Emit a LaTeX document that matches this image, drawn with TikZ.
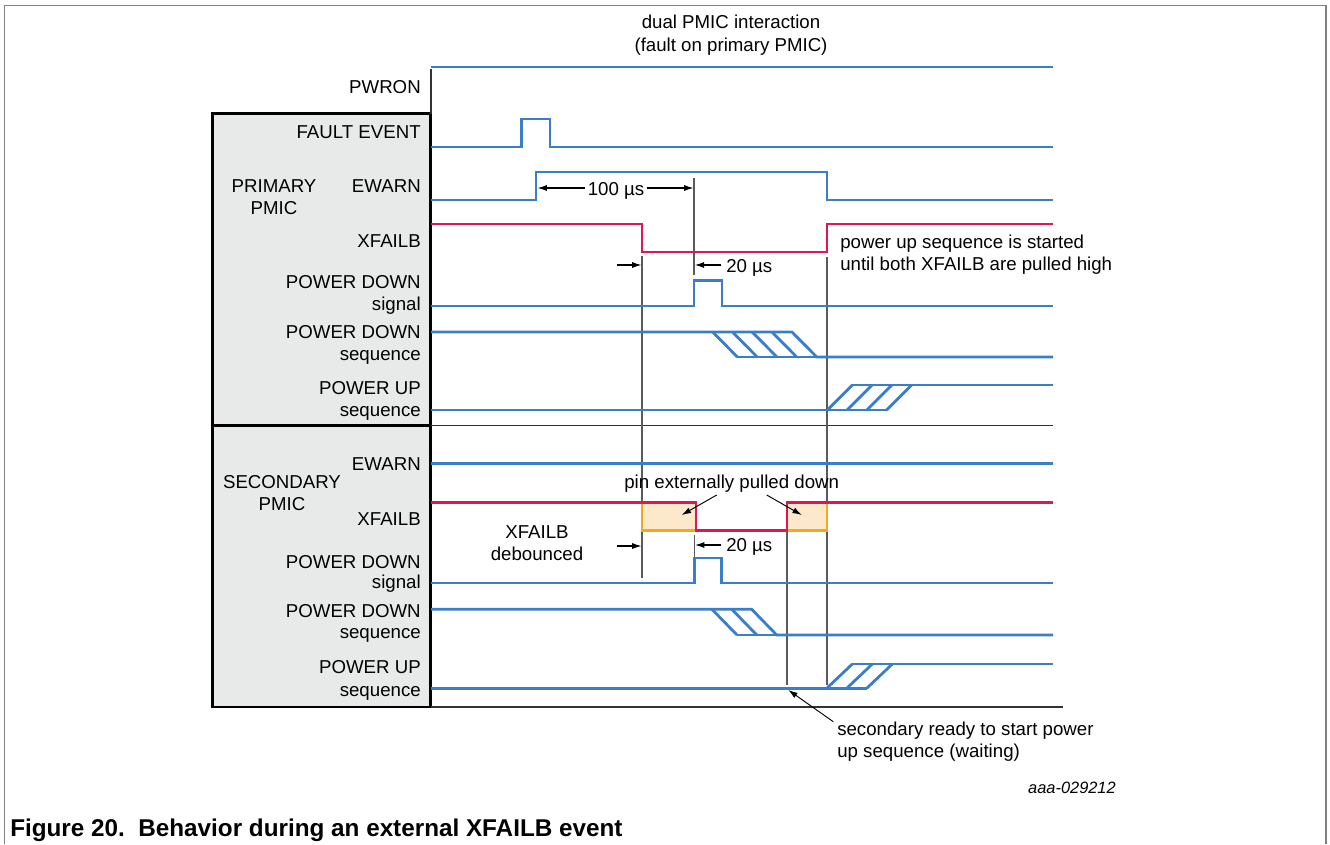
\documentclass[tikz,border=0pt]{standalone}
\usepackage{fontspec}
\setmainfont{Liberation Sans}
\usetikzlibrary{arrows.meta}
\definecolor{sigblue}{RGB}{58,126,200}
\definecolor{sigred}{RGB}{226,22,76}
\definecolor{pinorange}{RGB}{245,168,30}
\definecolor{pinfill}{RGB}{252,233,203}
\definecolor{boxgray}{RGB}{232,233,233}
\definecolor{framegray}{RGB}{128,128,128}
\definecolor{guidegray}{RGB}{90,90,90}
\begin{document}
\begin{tikzpicture}[x=0.75pt,y=-0.75pt,
  sig/.style={sigblue,line width=2.1pt,line join=miter},
  rsig/.style={sigred,line width=2.1pt},
  pinedge/.style={pinorange,line width=2pt},
  guide/.style={guidegray,line width=0.9pt},
  axisline/.style={black!80,line width=1pt},
  pmicbox/.style={draw=black,line width=2pt,fill=boxgray},
  lbl/.style={anchor=base east,inner sep=0pt,font=\fontsize{14}{16}\selectfont},
  ctxt/.style={anchor=base,inner sep=0pt,font=\fontsize{14}{16}\selectfont},
  ltxt/.style={anchor=base west,inner sep=0pt,font=\fontsize{14}{16}\selectfont},
  dimarr/.style={black,line width=0.8pt,-{Latex[length=7pt,width=4.5pt]}},
  notearr/.style={black,line width=0.7pt,-{Latex[length=7pt,width=4.5pt]}},
]
\useasboundingbox (0,0) rectangle (1330,844);
% outer frame
\draw[framegray,line width=1.1pt] (4.7,844) -- (4.7,5.7) -- (1326,5.7) -- (1326,844);

% PMIC boxes
\path[pmicbox] (212.5,113.5) rectangle (430.5,425.5);
\path[pmicbox] (212.5,425.5) rectangle (430.5,707);
\draw[axisline] (431,69) -- (431,113.5);
\draw[axisline] (430.5,425.5) -- (1053,425.5);
\draw[axisline] (430.5,707) -- (1063,707);

% title
\node[ctxt] (title1) at (731,28.5) {dual PMIC interaction};
\node[ctxt] (title2) at (731,51.5) {(fault on primary PMIC)};

% labels primary
\node[lbl] (lpwron) at (421,93) {PWRON};
\node[lbl] (lfault) at (421,138) {FAULT EVENT};
\node[ctxt] (lprim1) at (274,192) {PRIMARY};
\node[ctxt] (lprim2) at (274,214) {PMIC};
\node[lbl] (lewarn1) at (421,192) {EWARN};
\node[lbl] (lxf1) at (421,247) {XFAILB};
\node[lbl] (lpds1a) at (421,288) {POWER DOWN};
\node[lbl] (lpds1b) at (421,310) {signal};
\node[lbl] (lpdq1a) at (421,338) {POWER DOWN};
\node[lbl] (lpdq1b) at (421,360) {sequence};
\node[lbl] (lpuq1a) at (421,394) {POWER UP};
\node[lbl] (lpuq1b) at (421,416) {sequence};
% labels secondary
\node[lbl] (lewarn2) at (421,470) {EWARN};
\node[ctxt] (lsec1) at (282,488) {SECONDARY};
\node[ctxt] (lsec2) at (282,510) {PMIC};
\node[lbl] (lxf2) at (421,525) {XFAILB};
\node[lbl] (lpds2a) at (421,568) {POWER DOWN};
\node[lbl] (lpds2b) at (421,588) {signal};
\node[lbl] (lpdq2a) at (421,617) {POWER DOWN};
\node[lbl] (lpdq2b) at (421,638) {sequence};
\node[lbl] (lpuq2a) at (421,673) {POWER UP};
\node[lbl] (lpuq2b) at (421,696) {sequence};

% guide lines
\draw[guide] (694,178) -- (694,275);
\draw[guide] (642,256) -- (642,578);
\draw[guide] (827,257) -- (827,685);
\draw[guide] (787,531) -- (787,685);
\draw[guide] (694.3,535) -- (694.3,557);

% pin pulled down boxes
\fill[pinfill] (642,502.7) rectangle (696,530.7);
\fill[pinfill] (787,502.7) rectangle (827,530.7);
\draw[pinedge] (642,502.7) -- (642,530.7) -- (696,530.7);
\draw[pinedge] (787,530.7) -- (827,530.7) -- (827,502.7);

% primary signals
\draw[sig] (431,67) -- (1053,67);
\draw[sig] (431,147) -- (521.5,147) -- (521.5,119) -- (550,119) -- (550,147) -- (1053,147);
\draw[sig] (431,200) -- (536,200) -- (536,172) -- (827,172) -- (827,200) -- (1053,200);
\draw[rsig] (431,224) -- (642,224) -- (642,252) -- (827,252) -- (827,224) -- (1053,224);
\draw[sig] (431,306) -- (694,306) -- (694,280.5) -- (722,280.5) -- (722,306) -- (1053,306);
\draw[sig] (431,332) -- (792,332) -- (816.7,357) -- (1053,357);
\draw[sig] (737.3,357) -- (816.7,357);
\foreach \xx in {712.7,732.5,752.2,772} \draw[sig] (\xx,332) -- ++(24.7,25);
\draw[sig] (431,410) -- (886.7,410);
\draw[sig] (852.3,385) -- (1053,385);
\foreach \xx in {827.3,847.1,866.9,886.7} \draw[sig] (\xx,410) -- ++(25,-25);

% secondary signals
\draw[sig] (431,463.5) -- (1053,463.5);
\draw[rsig] (431,502.7) -- (696,502.7) -- (696,530.7) -- (787,530.7) -- (787,502.7) -- (1053,502.7);
\draw[sig] (431,583) -- (694.3,583) -- (694.3,558) -- (721.7,558) -- (721.7,583) -- (1053,583);
\draw[sig] (431,609.3) -- (751.7,609.3) -- (776.7,635) -- (1053,635);
\draw[sig] (737,635) -- (776.7,635);
\foreach \xx in {712,731.8} \draw[sig] (\xx,609.3) -- ++(25,25.7);
\draw[sig] (431,688.3) -- (866.7,688.3);
\draw[sig] (852.3,664) -- (1053,664);
\foreach \xx in {826.7,846.7,866.7} \draw[sig] (\xx,688.3) -- ++(25.6,-24.3);

% dimensions
\node[ctxt] (t100) at (616,195) {100 µs};
\coordinate (a100l) at (537.5,188);
\coordinate (a100r) at (693.5,188);
\draw[dimarr] (t100.west |- a100l) ++(-3,0) -- (a100l);
\draw[dimarr] (t100.east |- a100r) ++(3,0) -- (a100r);

\coordinate (a20s) at (616.7,265);
\coordinate (a20e) at (641.5,265);
\draw[dimarr] (a20s) -- (a20e);
\node[ltxt] (t20a) at (726,272.7) {20 µs};
\coordinate (a20r) at (694.8,265);
\draw[dimarr] (t20a.west |- a20r) ++(-5,0) -- (a20r);

\node[ltxt] (tpup1) at (840,248) {power up sequence is started};
\node[ltxt] (tpup2) at (840,270) {until both XFAILB are pulled high};

\node[ctxt] (tpin) at (731.7,488) {pin externally pulled down};
\coordinate (pinl) at (681.7,515);
\coordinate (pinr) at (801.7,515);
\draw[notearr] (716.7,495) -- (pinl);
\draw[notearr] (766.7,495) -- (pinr);

\node[ctxt] (tdeb1) at (537,538) {XFAILB};
\node[ctxt] (tdeb2) at (537,560) {debounced};
\coordinate (debs) at (616.7,546);
\coordinate (debe) at (641.5,546);
\draw[dimarr] (debs) -- (debe);

\node[ltxt] (t20b) at (726,551.7) {20 µs};
\coordinate (b20r) at (695,545);
\draw[dimarr] (t20b.west |- b20r) ++(-5,0) -- (b20r);

\node[ltxt] (tsec1) at (837,735) {secondary ready to start power};
\node[ltxt] (tsec2) at (837,757) {up sequence (waiting)};
\coordinate (secpt) at (788.3,690);
\draw[notearr] (833.3,721.7) -- (secpt);

\node[anchor=base east,inner sep=0pt,font=\fontsize{12.3}{14}\itshape\selectfont] (tid) at (1116,793) {aaa-029212};

\node[anchor=base west,inner sep=0pt,font=\fontsize{18.2}{20}\bfseries\selectfont] (caption) at (10,836) {Figure 20.\ \ Behavior during an external XFAILB event};
\end{tikzpicture}
\end{document}
